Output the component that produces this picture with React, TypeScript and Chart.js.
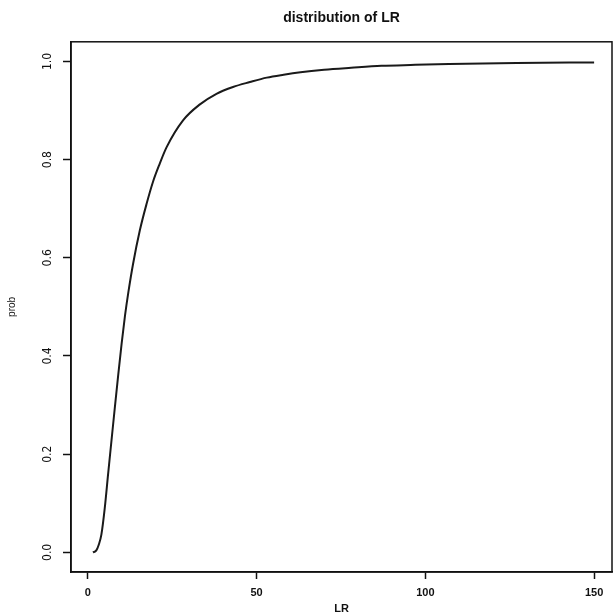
import React, { useEffect, useRef } from "react";
import { Chart, registerables } from "chart.js";

Chart.register(...registerables);

const lrValues = [1.5, 2.5, 3.2, 4.0, 5.0, 6.0, 7.0, 8.0, 9.0, 10.0, 11.0, 12.0, 13.4, 15.4, 17.4, 19.3, 21.3, 23.3, 28.2, 33.1, 38.1, 43, 48, 53, 58, 63, 70, 78, 87, 97, 107, 127, 150];
const probValues = [0, 0.004, 0.015, 0.036, 0.09, 0.16, 0.228, 0.296, 0.362, 0.425, 0.482, 0.53, 0.588, 0.656, 0.71, 0.755, 0.792, 0.825, 0.88, 0.912, 0.934, 0.948, 0.958, 0.967, 0.973, 0.978, 0.983, 0.987, 0.991, 0.993, 0.995, 0.997, 0.998];
const xTicks = [0, 50, 100, 150];
const yTicks = [0, 0.2, 0.4, 0.6, 0.8, 1.0];
const titleText = "distribution of LR";
const xTitle = "LR";
const yTitle = "prob";

const boxPlugin = {
  id: "boxPlugin",
  afterDatasetsDraw(chart: any) {
    const { ctx, chartArea } = chart;
    ctx.save();
    ctx.strokeStyle = "#111";
    ctx.lineWidth = 1.5;
    ctx.strokeRect(chartArea.left, chartArea.top, chartArea.right - chartArea.left, chartArea.bottom - chartArea.top);
    ctx.restore();
  },
};

export default function App() {
  const ref = useRef<HTMLCanvasElement | null>(null);
  useEffect(() => {
    if (!ref.current) return;
    const chart = new Chart(ref.current, {
      type: "line",
      data: {
        datasets: [
          {
            data: lrValues.map((x, i) => ({ x, y: probValues[i] })),
            borderColor: "#1a1a1a",
            borderWidth: 2,
            pointRadius: 0,
            cubicInterpolationMode: "monotone",
            fill: false,
          },
        ],
      },
      plugins: [boxPlugin],
      options: {
        animation: false,
        responsive: false,
        layout: { padding: { left: 0, right: 1, top: 0, bottom: 0 } },
        plugins: {
          legend: { display: false },
          tooltip: { enabled: false },
          title: {
            display: true,
            text: titleText,
            fullSize: false,
            color: "#111",
            font: { family: "Liberation Sans, Arial, sans-serif", size: 14, weight: "bold" },
            padding: { top: 10, bottom: 15 },
          },
        },
        scales: {
          x: {
            type: "linear",
            min: -5,
            max: 155.3,
            afterBuildTicks: (s: any) => {
              s.ticks = xTicks.map((v) => ({ value: v }));
            },
            afterFit: (s: any) => {
              s.height = 42;
            },
            grid: { drawOnChartArea: false, drawTicks: true, tickLength: 7, color: "#111", tickWidth: 1.5 },
            border: { display: true, color: "#111", width: 1.5 },
            ticks: {
              color: "#111",
              padding: 7,
              maxRotation: 0,
              font: { family: "Liberation Sans, Arial, sans-serif", size: 11, weight: "bold" },
              callback: (v: any) => String(v),
            },
            title: {
              display: true,
              text: xTitle,
              color: "#111",
              font: { family: "Liberation Sans, Arial, sans-serif", size: 11, weight: "bold" },
              padding: { top: 0, bottom: -2 },
            },
          },
          y: {
            type: "linear",
            min: -0.04,
            max: 1.04,
            afterBuildTicks: (s: any) => {
              s.ticks = yTicks.map((v) => ({ value: v }));
            },
            afterFit: (s: any) => {
              s.width = 71;
            },
            grid: { drawOnChartArea: false, drawTicks: true, tickLength: 8, color: "#111", tickWidth: 1.5 },
            border: { display: true, color: "#111", width: 1.5 },
            ticks: {
              color: "#111",
              padding: 7,
              minRotation: 90,
              maxRotation: 90,
              crossAlign: "center",
              font: { family: "Liberation Sans Narrow, DejaVu Sans Condensed, Arial, sans-serif", size: 12 },
              callback: (v: any) => Number(v).toFixed(1),
            },
            title: {
              display: true,
              text: yTitle,
              color: "#111",
              font: { family: "Liberation Sans Narrow, Arial, sans-serif", size: 10 },
              padding: { top: 6, bottom: 0 },
            },
          },
        },
      },
    } as any);
    return () => chart.destroy();
  }, []);
  return (
    <div style={{ position: "fixed", left: 0, top: 0, width: 613, height: 614, background: "#fff" }}>
      <canvas ref={ref} width={613} height={614} />
    </div>
  );
}
